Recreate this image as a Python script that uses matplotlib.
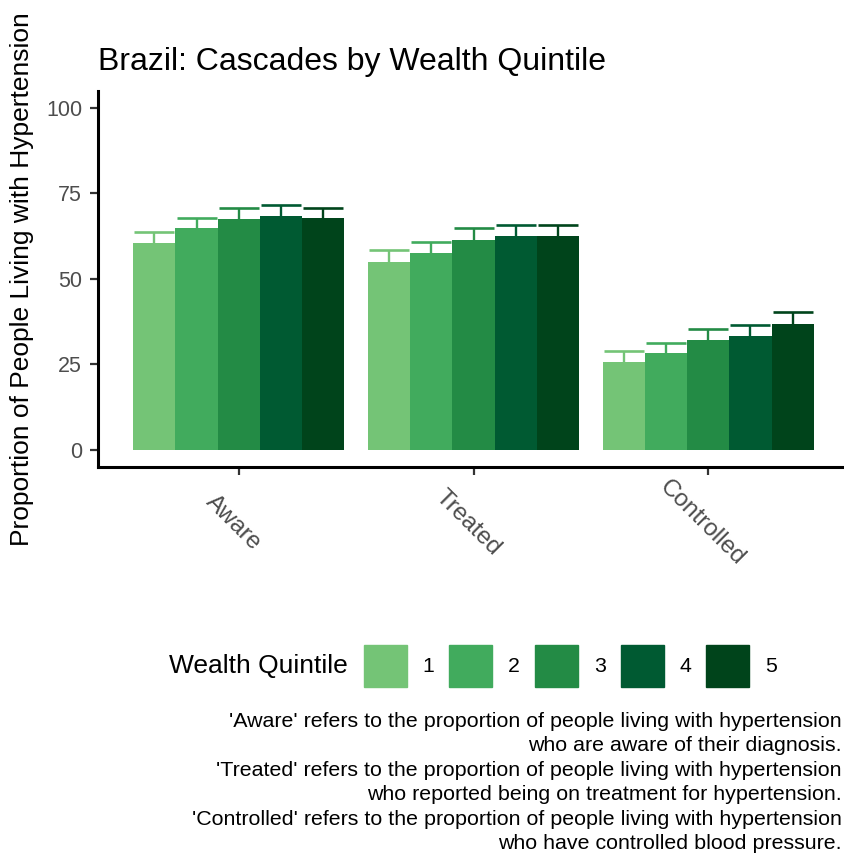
import numpy as np
import matplotlib
matplotlib.use("Agg")
import matplotlib.pyplot as plt
import matplotlib.patches as mpatches
import matplotlib.transforms as mtransforms

plt.rcParams['font.family'] = ['Liberation Sans', 'DejaVu Sans']

categories = ["Aware", "Treated", "Controlled"]
quintiles = ["1", "2", "3", "4", "5"]
col_arr = ["#74C476", "#41AB5D", "#238B45", "#005A32", "#00441B"]

# estimates per cascade step, one entry per wealth quintile
est_aware = [60.5, 64.8, 67.4, 68.4, 67.7]
est_treated = [54.9, 57.6, 61.3, 62.6, 62.6]
est_controlled = [25.5, 28.2, 32.1, 33.2, 36.7]

# upper 95% bounds
hi_aware = [63.6, 67.9, 70.8, 71.6, 70.7]
hi_treated = [58.3, 60.9, 64.8, 65.7, 65.9]
hi_controlled = [28.9, 31.1, 35.2, 36.4, 40.2]

yticks = [0, 25, 50, 75, 100]

caption = ("'Aware' refers to the proportion of people living with hypertension\n"
           "who are aware of their diagnosis.\n"
           "'Treated' refers to the proportion of people living with hypertension\n"
           "who reported being on treatment for hypertension.\n"
           "'Controlled' refers to the proportion of people living with hypertension\n"
           "who have controlled blood pressure.")

est = np.array([est_aware, est_treated, est_controlled])
hi = np.array([hi_aware, hi_treated, hi_controlled])
lo = 2 * est - hi

W, H = 845, 855
fig = plt.figure(figsize=(W / 100, H / 100), dpi=100)
ax = fig.add_axes([98 / W, 1 - 466.6 / H, 751 / W, 375.6 / H])

x = np.arange(1, len(categories) + 1)
bw = 0.9 / len(quintiles)
for i, q in enumerate(quintiles):
    xpos = x + (i - 2) * bw
    ax.errorbar(xpos, est[:, i], yerr=[est[:, i] - lo[:, i], hi[:, i] - est[:, i]],
                fmt="none", ecolor=col_arr[i], elinewidth=1.7, capsize=14.6,
                capthick=1.9, zorder=1)
    ax.bar(xpos, est[:, i], width=bw, color=col_arr[i], zorder=2, label=q)

ax.set_xlim(0.4, 3.6)
ax.set_ylim(-5, 105)
ax.set_yticks(yticks)
ax.set_yticklabels([str(v) for v in yticks])
ax.set_xticks(x)
ax.set_xticklabels(categories)

for s in ["top", "right"]:
    ax.spines[s].set_visible(False)
for s in ["left", "bottom"]:
    ax.spines[s].set_linewidth(2.2)
    ax.spines[s].set_color("black")

ax.tick_params(axis="both", colors="#333333", width=1.6, length=5.8,
               labelsize=15.5, labelcolor="#4D4D4D")
ax.tick_params(axis="y", pad=5.6)
ax.tick_params(axis="x", pad=35.0, labelsize=17.5)
shift = mtransforms.ScaledTranslation(-6 / 100, 0, fig.dpi_scale_trans)
for lab in ax.get_xticklabels():
    lab.set_rotation(-45)
    lab.set_ha("center")
    lab.set_va("center")
    lab.set_rotation_mode("anchor")
    lab.set_transform(lab.get_transform() + shift)

fig.text(98 / W, 1 - 70 / H, "Brazil: Cascades by Wealth Quintile",
         fontsize=23, ha="left", va="baseline", color="black")
fig.text(22 / W, 1 - 278.8 / H, "Proportion of People Living with Hypertension",
         fontsize=19, rotation=90, ha="center", va="center", color="black")

handles = [mpatches.Patch(color=c, label=q) for c, q in zip(col_arr, quintiles)]
fig.text(169 / W, 1 - 666 / H, "Wealth Quintile", fontsize=19, ha="left", va="center")
fig.legend(handles=handles, loc="center left", bbox_to_anchor=(364 / W, 1 - 666 / H),
           ncol=5, frameon=False, fontsize=15.3, handlelength=2.02, handleheight=2.6,
           handletextpad=0.75, columnspacing=0.7, borderpad=0, borderaxespad=0)

fig.text(842 / W, 1 - 712 / H, caption, fontsize=15.4, ha="right", va="top",
         multialignment="right", linespacing=1.36)

fig.savefig("out.png", dpi=100)
